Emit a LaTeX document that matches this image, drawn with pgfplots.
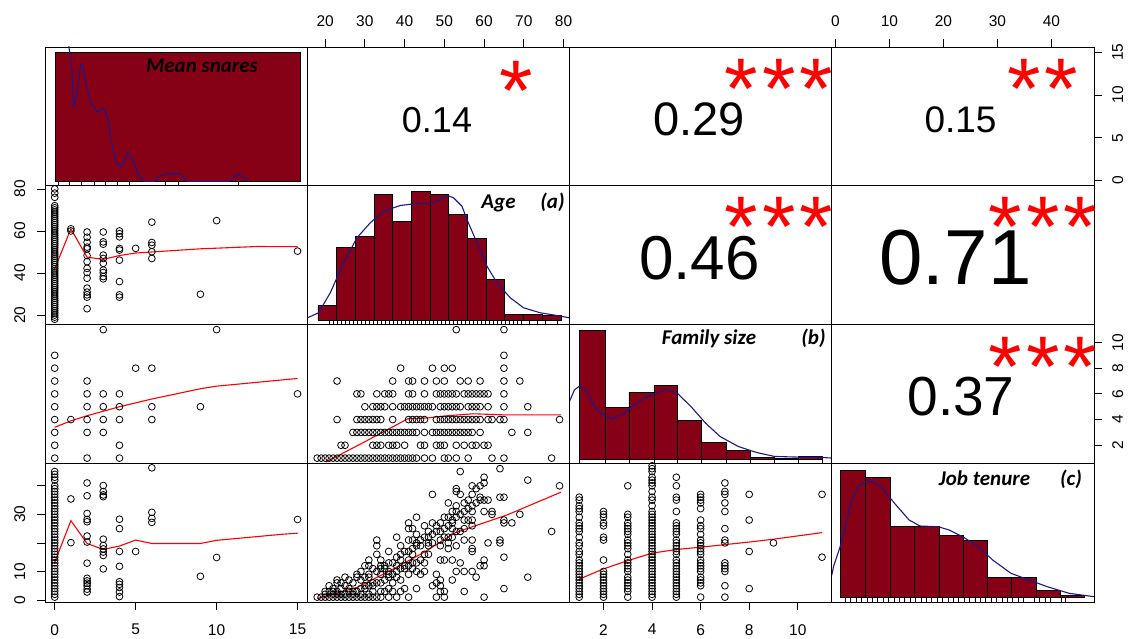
\documentclass[border=0pt]{standalone}
\usepackage{fontspec}
\setmainfont{Liberation Sans}
\newfontfamily\labfont{Carlito}
\usepackage{pgfplots}
\pgfplotsset{compat=1.18}
\definecolor{barred}{RGB}{134,0,22}
\definecolor{densblue}{RGB}{25,25,140}
\definecolor{lowred}{RGB}{255,0,0}
\tikzset{lab/.style={anchor=base, inner sep=0pt, font=\labfont\bfseries\itshape\fontsize{21}{24}\selectfont},
  stars/.style={inner sep=0pt, anchor=base, text=lowred, font=\fontsize{86}{90}\selectfont}}
\newcommand\sst{\hspace{4pt}}
\pgfplotsset{
  panel/.style={scale only axis, width=262.25pt, height=138.75pt, anchor=north west,
    axis line style={line width=0.9pt, black},
    xtick=\empty, ytick=\empty,
    tick align=outside, major tick length=8pt,
    tick style={line width=0.8pt, black},
    /pgf/number format/assume math mode=true,
    tick label style={font=\fontsize{15.5}{18}\selectfont, black, inner sep=0pt},
  },
  topx/.style={xtick pos=right, xticklabel pos=right, xticklabel style={anchor=south, yshift=12pt}},
  botx/.style={xtick pos=left, xticklabel pos=left, xticklabel style={anchor=north, yshift=-14pt}},
  lefty/.style={ytick pos=left, yticklabel pos=left, yticklabel style={xshift=-11.5pt, rotate=90, anchor=south}},
  righty/.style={ytick pos=right, yticklabel pos=right, yticklabel style={xshift=10pt, rotate=90, anchor=north}},
  scat/.style={only marks, mark=o, mark size=3.4pt, mark options={line width=0.8pt, black}, black},
  low/.style={lowred, line width=1.1pt, no marks},
  dens/.style={densblue, line width=1.1pt, no marks},
  hist/.style={ybar interval, fill=barred, draw=black, line width=0.8pt},
  rug/.style={ycomb, black, line width=0.8pt, no marks},
  diag/.style={panel, xmin=0, xmax=262.25},
}
\begin{document}
\begin{tikzpicture}
\useasboundingbox (0pt,0pt) rectangle (1129pt,638pt);

% ---------- Row 1 ----------
% (1,1) Mean snares histogram (panel-relative units)
\begin{axis}[diag, at={(45pt,591pt)}, ymin=-4, ymax=134.75]
\addplot[hist] coordinates {(10,129.7) (255,0)};
\addplot[rug] coordinates {(13,-4) (24,-4) (36,-4) (49,-4) (60,-4) (72,-4) (84,-4) (120,-4) (133,-4) (193,-4)};
\addplot[dens] coordinates {(21.5,160) (24,134) (26.6,115.3) (28.8,75.3) (31.4,85.3) (35.7,117) (37.9,115.3) (42.3,92) (45.9,78.7) (52.5,69.3) (58.6,73.7) (62.3,65.3) (65.9,42) (71.4,18.7) (76.8,15.3) (83,29.3) (87.7,22) (93.2,7) (98.6,0.3) (109.5,0.3) (115,6) (121.5,8) (135,8) (142.3,0.3) (184,0.3) (193.2,8) (204,0.3)};
\node[lab] at (axis cs:157,109) {Mean snares};
\end{axis}

% (1,2) top Age ticks
\begin{axis}[panel, topx, at={(307.25pt,591pt)}, xmin=15.5, xmax=81.5, ymin=0, ymax=1, xtick={20,30,40,50,60,70,80}]
\end{axis}
% (1,3)
\begin{axis}[panel, at={(569.5pt,591pt)}, xmin=0, xmax=1, ymin=0, ymax=1]
\end{axis}
% (1,4) top Job tenure ticks, right Mean snares ticks
\begin{axis}[panel, topx, righty, at={(831.75pt,591pt)}, xmin=-0.7, xmax=47.9, ymin=-0.6, ymax=15.6, xtick={0,10,20,30,40}, ytick={0,5,10,15}]
\end{axis}

% ---------- Row 2 ----------
% (2,1) Mean snares vs Age
\begin{axis}[panel, lefty, at={(45pt,452.25pt)}, xmin=-0.6, xmax=15.6, ymin=15.5, ymax=81.5, ytick={20,40,60,80}]
\addplot[scat] coordinates {(0,18)(0,19)(0,20)(0,21)(0,22)(0,23)(0,24)(0,25)(0,26)(0,27)(0,28)(0,29)(0,30)(0,31)(0,32)(0,33)(0,34)(0,35)(0,36)(0,37)(0,38)(0,39)(0,40)(0,41)(0,42)(0,43)(0,44)(0,45)(0,46)(0,47)(0,48)(0,49)(0,50)(0,51)(0,52)(0,53)(0,54)(0,55)(0,56)(0,57)(0,58)(0,59)(0,60)(0,61)(0,62)(0,63)(0,64)(0,65)(0,66)(0,67)(0,68)(0,69)(0,70)(0,71)(0,72)(0,76)(0,78)(0,80)
(1,61)(1,60)
(2,59.5)(2,57)(2,54.6)(2,52.3)(2,51.5)(2,48.3)(2,45.4)(2,42.2)(2,40.2)(2,37.5)(2,32.8)(2,30.9)(2,29.6)(2,28.5)(2,23)
(3,59.5)(3,54.8)(3,53.7)(3,48.5)(3,46.9)(3,44.6)(3,41.4)(3,40.2)(3,38.3)(3,37.2)
(4,60)(4,58.7)(4,57.2)(4,51.7)(4,50.9)(4,46.1)(4,35.9)(4,29.6)(4,28.5)
(5,51.7)(6,64.2)(6,54.5)(6,53.2)(6,50.1)(6,46.9)(9,29.9)(10,64.9)(15,50.4)};
\addplot[low] coordinates {(0,42) (1,61) (2,47.5) (3,46.5) (4,48.3) (5,49.5) (6,50) (9,51.5) (10,51.8) (12.5,52.6) (15,52.5)};
\end{axis}

% (2,2) Age histogram
\begin{axis}[diag, at={(307.25pt,452.25pt)}, ymin=-4.3, ymax=134.45]
\addplot[hist] coordinates {(10.7,14.7) (29.4,72.4) (48.1,84) (66.8,125.7) (85.5,98.4) (104.2,129) (122.8,125.7) (141.5,106) (160.2,81.4) (178.9,40.7) (197.6,5.7) (216.3,5.7) (235.0,5) (253.7,0)};
\addplot[rug] coordinates {(22,-4.3)(26,-4.3)(30,-4.3)(34,-4.3)(38,-4.3)(42,-4.3)(46,-4.3)(50,-4.3)(54,-4.3)(58,-4.3)(62,-4.3)(66,-4.3)(70,-4.3)(74,-4.3)(78,-4.3)(82,-4.3)(86,-4.3)(90,-4.3)(94,-4.3)(98,-4.3)(102,-4.3)(106,-4.3)(110,-4.3)(114,-4.3)(118,-4.3)(122,-4.3)(126,-4.3)(130,-4.3)(134,-4.3)(138,-4.3)(142,-4.3)(146,-4.3)(150,-4.3)(154,-4.3)(158,-4.3)(162,-4.3)(166,-4.3)(170,-4.3)(174,-4.3)(178,-4.3)(182,-4.3)(186,-4.3)(190,-4.3)(194,-4.3)(198,-4.3)(202,-4.3)(206,-4.3)(210,-4.3)(214,-4.3)(222,-4.3)(230,-4.3)(238,-4.3)(250,-4.3)};
\addplot[dens] coordinates {(0.3,2.4) (11.3,7.4) (23,27.4) (36.3,57.4) (49.7,82.4) (63,97.4) (76.3,109) (93,114.7) (109.7,116.7) (123,116.7) (133,120.7) (140.3,124.7) (146.3,122.4) (154.7,114) (159.7,100.7) (169.7,77.4) (179.7,54) (189.7,37.4) (203,22.4) (216.3,12.4) (233,7.4) (249.7,4.7) (262,2.4)};
\node[lab] at (axis cs:191.25,111.9) {Age};
\node[lab] at (axis cs:245.25,111.9) {(a)};
\end{axis}

% (2,3), (2,4)
\begin{axis}[panel, at={(569.5pt,452.25pt)}, xmin=0, xmax=1, ymin=0, ymax=1]
\end{axis}
\begin{axis}[panel, at={(831.75pt,452.25pt)}, xmin=0, xmax=1, ymin=0, ymax=1]
\end{axis}

% ---------- Row 3 ----------
% (3,1) Mean snares vs Family size
\begin{axis}[panel, at={(45pt,313.5pt)}, xmin=-0.6, xmax=15.6, ymin=0.6, ymax=11.4]
\addplot[scat] coordinates {(0,9)(0,8)(0,7)(0,6)(0,5)(0,4)(0,3)(0,2)(0,1)
(1,4)(2,7)(2,6)(2,5)(2,4)(2,3)(2,1)(3,11)(3,6)(3,5)(3,4)(3,3)
(4,6)(4,5)(4,4)(4,2)(4,1)(5,8)(6,8)(6,5)(6,4)(9,5)(10,11)(15,6)};
\addplot[low] coordinates {(0,3.4) (1,3.9) (2,4.3) (4,5.0) (6,5.6) (9,6.4) (10,6.6) (15,7.2)};
\end{axis}

% (3,2) Age vs Family size
\begin{axis}[panel, at={(307.25pt,313.5pt)}, xmin=15.5, xmax=81.5, ymin=0.6, ymax=11.4]
\addplot[scat] coordinates {(53,11)(65,11)(65,9)
(39,8)(47,8)(50,8)(52,8)(65,8)
(23,7)(37,7)(41,7)(42,7)(45,7)(48,7)(50,7)(54,7)(56,7)(59,7)(65,7)(69,7)
(28,6)(29,6)(33,6)(35,6)(36,6)(37,6)(41,6)(42,6)(45,6)(48,6)(49,6)(50,6)(51,6)(52,6)(53,6)(55,6)(56,6)(57,6)(58,6)(59,6)(60,6)(61,6)(65,6)
(30,5)(32,5)(33,5)(34,5)(35,5)(37,5)(39,5)(40,5)(41,5)(42,5)(43,5)(44,5)(45,5)(46,5)(47,5)(49,5)(50,5)(51,5)(52,5)(53,5)(54,5)(56,5)(57,5)(58,5)(59,5)(61,5)(65,5)(71,5)
(23,4)(28,4)(29,4)(30,4)(31,4)(32,4)(33,4)(34,4)(37,4)(41,4)(42,4)(43,4)(44,4)(45,4)(48,4)(49,4)(50,4)(51,4)(52,4)(53,4)(54,4)(55,4)(56,4)(57,4)(58,4)(59,4)(61,4)(62,4)(64,4)(65,4)(79,4)
(27,3)(28,3)(29,3)(30,3)(31,3)(32,3)(33,3)(34,3)(35,3)(36,3)(37,3)(38,3)(39,3)(40,3)(41,3)(42,3)(43,3)(45,3)(47,3)(48,3)(49,3)(50,3)(51,3)(52,3)(53,3)(54,3)(55,3)(56,3)(57,3)(59,3)(67,3)(71,3)
(24,2)(25,2)(32,2)(33,2)(34,2)(36,2)(37,2)(38,2)(40,2)(44,2)(45,2)(48,2)(49,2)(50,2)(53,2)(55,2)(57,2)(58,2)(60,2)(61,2)
(18,1)(19,1)(20,1)(21,1)(22,1)(23,1)(24,1)(25,1)(26,1)(27,1)(28,1)(29,1)(30,1)(31,1)(32,1)(33,1)(34,1)(35,1)(36,1)(37,1)(38,1)(39,1)(40,1)(41,1)(42,1)(43,1)(45,1)(47,1)(50,1)(51,1)(53,1)(56,1)(62,1)(65,1)(77,1)};
\addplot[low] coordinates {(20.2,0.7) (29.8,2.24) (35.3,3.15) (40.8,4.06) (45.8,4.13) (50.8,4.3) (57.3,4.45) (64.6,4.37) (79.4,4.37)};
\end{axis}

% (3,3) Family size histogram
\begin{axis}[diag, at={(569.5pt,313.5pt)}, ymin=-3.5, ymax=135.25]
\addplot[hist] coordinates {(9.9,129.3) (35.4,52.3) (59.4,67.7) (84.5,74) (107.4,39.3) (132.1,17.7) (156.5,9) (180.8,2.3) (204.8,1) (229.2,3.3) (252.8,0)};
\addplot[rug] coordinates {(9.9,-3.5)(35.4,-3.5)(59.4,-3.5)(84.5,-3.5)(107.4,-3.5)(132.1,-3.5)(156.5,-3.5)(180.8,-3.5)(204.8,-3.5)(229.2,-3.5)(252.8,-3.5)};
\addplot[dens] coordinates {(0,58.3) (5,70) (10.5,74) (16,70) (26.9,50) (41.4,40.7) (54.1,46) (66.9,56.7) (81.4,65) (96,70) (106.9,67.3) (121.4,53.3) (136,36.7) (150.5,23.3) (168.7,13.3) (186.9,7.3) (205,3.3) (226.9,2.7) (245,2.7) (262.25,1.7)};
\node[lab] at (axis cs:139.5,115) {Family size};
\node[lab] at (axis cs:244,115) {(b)};
\end{axis}

% (3,4) right Family size ticks
\begin{axis}[panel, righty, at={(831.75pt,313.5pt)}, xmin=0, xmax=1, ymin=0.6, ymax=11.4, ytick={2,4,6,8,10}]
\end{axis}

% ---------- Row 4 ----------
% (4,1) Mean snares vs Job tenure
\begin{axis}[panel, botx, lefty, at={(45pt,174.75pt)}, xmin=-0.6, xmax=15.6, ymin=-0.7, ymax=47.9, xtick={0,5,10,15}, ytick={0,10,20,30,40}, yticklabels={0,10,,30,}]
\addplot[scat] coordinates {(0,1)(0,2)(0,3)(0,4)(0,5)(0,6)(0,7)(0,8)(0,9)(0,10)(0,11)(0,12)(0,13)(0,14)(0,15)(0,16)(0,17)(0,18)(0,19)(0,20)(0,21)(0,22)(0,23)(0,24)(0,25)(0,26)(0,27)(0,28)(0,29)(0,30)(0,31)(0,32)(0,33)(0,34)(0,35)(0,36)(0,37)(0,38)(0,39)(0,40)(0,42)(0,43)(0,44)(0,45)
(1,35.4)(1,20.1)
(2,41)(2,36.5)(2,30.3)(2,28.2)(2,27.4)(2,22.4)(2,20.3)(2,12.9)(2,7.6)(2,6.7)(2,5.9)(2,5)(2,3.8)(2,2.8)
(3,40.1)(3,38)(3,36.8)(3,36.2)(3,21.3)(3,19.1)(3,17.9)(3,16.8)(3,15.6)(3,10.9)
(4,28.3)(4,25)(4,17)(4,11.8)(4,6.4)(4,5.5)(4,4.4)(4,2.8)(4,1.2)
(5,17)(6,46.3)(6,30.7)(6,28.6)(6,27.2)(9,8.3)(10,14.9)(15,28.2)};
\addplot[low] coordinates {(0,13.2) (1,27.8) (2,19.8) (3,17.7) (4,18.9) (5,21) (6,19.8) (9,19.8) (10,20.9) (14,23) (15,23.4)};
\end{axis}

% (4,2) Age vs Job tenure
\begin{axis}[panel, at={(307.25pt,174.75pt)}, xmin=15.5, xmax=81.5, ymin=-0.7, ymax=47.9]
\addplot[scat] coordinates {(54,45)(60,43)(64,46)(71,42)(79,40)(60,41)(59,40)(58,39)(57,40)(53,39)(53,38)(47,37)(54,37)(57,37)(59,36)(60,35)(61,35)(56,35)(51,34)(53,33)(55,34)(52,31)(53,31)(57,31)(60,31)(62,31)(62,30)(64,36)(65,36)(69,30)(67,27)(65,27)(65,28)(50,29)(51,29)(52,28)(49,27)(43,29)(41,27)(45,26)(47,27)(48,26)(41,25)(42,25)(43,23)(46,24)(49,24)(52,25)(55,25)(57,26)(55,21)(57,21)(57,18)(61,20)(64,21)(64,20)(71,8)(65,15)(77,24)(38,22)(33,21)(33,19)(39,19)(41,21)(42,21)(43,19)(44,19)(46,19)(46,20)(49,19)(51,20)(51,18)(53,19)(57,17)(41,17)(42,16)(45,16)(46,16)(49,14)(50,14)(52,14)(54,13)(60,14)(60,12)(59,12)(31,14)(33,16)(34,14)(36,17)(37,13)(38,12)(36,10)(35,11)(34,12)(32,11)(31,12)(30,12)(29,10)(28,8)(26,7)(25,8)(23,7)(23,6)(24,6)(25,5)(27,6)(28,9)(31,9)(34,9)(36,9)(38,8)(40,11)(41,9)(42,11)(43,10)(44,9)(45,10)(45,13)(41,12)(39,14)(39,7)(40,4)(39,3)(37,3)(36,4)(35,3)(34,3)(32,3)(31,2)(29,2)(28,3)(27,2)(25,2)(23,3)(22,3)(21,3)(20,2)(19,1)(18,1)(21,5)(22,4)(48,9)(49,7)(49,5)(48,6)(47,5)(43,4)(49,3)(50,1)(48,1)(50,3)(53,10)(55,10)(57,10)(58,8)(52,7)(55,3)(60,1)(65,4)(34,1)(36,1)(38,1)(41,1)(37,6)(34,6)(32,6)(30,5)(29,7)(26,4)(20,3)(24,4)
(20,1)(21,1)(22,1)(23,1)(24,1)(25,1)(26,1)(27,1)(28,1)(29,1)(30,1)(31,1)(32,1)(33,1)(22,2)(23,2)(24,2)(26,3)(27,3)(29,4)(30,4)(31,5)(32,5)(33,6)(35,7)(36,8)(37,9)(38,10)(39,11)(40,12)(30,8)(31,8)(33,10)(34,11)(35,12)(36,13)(38,15)(39,16)(40,17)(42,18)(43,20)(44,21)(45,22)(46,22)(47,23)(48,24)(50,25)(51,26)(52,27)(53,29)(54,30)(55,31)(56,32)(57,33)(58,34)(59,35)(50,22)(51,22)(52,22)(49,21)(47,20)(43,13)(44,14)(42,13)(41,14)(53,24)(54,24)(55,28)(56,28)(57,28)};
\addplot[low] coordinates {(18,0.5) (28,4.4) (36.4,10.3) (45,16.8) (49,20.3) (52.8,23.6) (58.2,26.2) (65.8,29.8) (79.4,37.8)};
\end{axis}

% (4,3) Family size vs Job tenure
\begin{axis}[panel, botx, at={(569.5pt,174.75pt)}, xmin=0.6, xmax=11.4, ymin=-0.7, ymax=47.9, xtick={2,4,6,8,10}]
\addplot[scat] coordinates {(1,36)(1,35)(1,33)(1,32)(1,31)(1,29)(1,27)(1,26)(1,25)(1,24)(1,22)(1,20)(1,19)(1,17)(1,16)(1,14)(1,13)(1,12)(1,11)(1,10)(1,9)(1,8)(1,7)(1,6)(1,5)(1,4)(1,3)(1,2)(1,1)
(2,31)(2,30)(2,29)(2,27)(2,26)(2,22)(2,21)(2,14)(2,10)(2,9)(2,8)(2,7)(2,6)(2,5)(2,4)(2,3)(2,2)(2,1)
(3,40)(3,30)(3,29)(3,27)(3,26)(3,25)(3,24)(3,23)(3,21)(3,20)(3,19)(3,18)(3,16)(3,14)(3,13)(3,12)(3,11)(3,10)(3,8)(3,7)(3,6)(3,5)(3,4)(3,3)(3,1)
(4,47)(4,46)(4,45)(4,43)(4,42)(4,41)(4,40)(4,38)(4,36)(4,35)(4,33)(4,31)(4,30)(4,29)(4,28)(4,27)(4,26)(4,25)(4,24)(4,23)(4,22)(4,21)(4,20)(4,19)(4,18)(4,17)(4,16)(4,15)(4,14)(4,13)(4,12)(4,11)(4,10)(4,9)(4,8)(4,7)(4,6)(4,5)(4,4)(4,3)(4,2)(4,1)
(5,43)(5,40)(5,36)(5,35)(5,31)(5,27)(5,26)(5,25)(5,24)(5,23)(5,21)(5,20)(5,19)(5,18)(5,17)(5,16)(5,14)(5,13)(5,12)(5,11)(5,10)(5,9)(5,8)(5,7)(5,6)(5,5)(5,4)(5,3)(5,2)(5,1)
(6,37)(6,36)(6,35)(6,34)(6,32)(6,28)(6,26)(6,25)(6,23)(6,21)(6,20)(6,19)(6,18)(6,17)(6,16)(6,14)(6,13)(6,12)(6,11)(6,10)(6,8)(6,7)(6,6)(6,5)(6,1)
(7,41)(7,38)(7,37)(7,34)(7,31)(7,25)(7,21)(7,20)(7,13)(7,12)(7,11)(7,10)(7,5)(7,1)
(8,37)(8,28)(8,17)(8,4)(9,20)(11,37)(11,15)};
\addplot[low] coordinates {(1,7.3) (2,10.9) (3,13.8) (4,16.4) (5,17.7) (6,18.5) (7,19.4) (8,20.3) (9,21.3) (11,23.6)};
\end{axis}

% (4,4) Job tenure histogram
\begin{axis}[diag, at={(831.75pt,174.75pt)}, ymin=-4.7, ymax=134.05]
\addplot[hist] coordinates {(8.95,127.3) (33.75,120) (58.45,70.6) (82.75,70.6) (107.15,62.3) (131.15,57.3) (155.55,20) (179.85,20) (204.65,7.3) (228.25,2.3) (252.65,0)};
\addplot[rug] coordinates {(13.7,-4.7)(19.1,-4.7)(24.5,-4.7)(29.9,-4.7)(35.3,-4.7)(40.7,-4.7)(46.1,-4.7)(51.5,-4.7)(56.9,-4.7)(62.3,-4.7)(67.7,-4.7)(73.1,-4.7)(78.5,-4.7)(83.9,-4.7)(89.3,-4.7)(94.7,-4.7)(100.1,-4.7)(105.5,-4.7)(110.9,-4.7)(116.3,-4.7)(121.7,-4.7)(127.1,-4.7)(132.5,-4.7)(137.9,-4.7)(143.3,-4.7)(148.7,-4.7)(154.1,-4.7)(159.5,-4.7)(164.9,-4.7)(170.3,-4.7)(175.7,-4.7)(181.1,-4.7)(186.5,-4.7)(191.9,-4.7)(202.7,-4.7)(208.1,-4.7)(213.5,-4.7)(218.9,-4.7)(229.7,-4.7)(233.7,-4.7)};
\addplot[dens] coordinates {(0,22) (1.75,30.6) (8.95,52.3) (19.15,94) (26.45,110.6) (33.75,115.6) (42.75,115.6) (51.85,107.3) (62.75,94) (77.35,77.3) (88.25,71.3) (106.45,70.6) (117.35,67.3) (131.85,60) (146.45,50.6) (160.95,37.3) (179.15,24) (197.35,17.3) (215.55,10.6) (237.35,4) (262.25,0.6)};
\node[lab] at (axis cs:152.75,112.3) {Job tenure};
\node[lab] at (axis cs:239.25,112.3) {(c)};
\end{axis}

% ---------- correlation texts and stars ----------
\begin{scope}
\clip (307.25pt,452.25pt) rectangle (569.5pt,591pt);
\node[inner sep=0pt, font=\fontsize{36}{40}\selectfont] at (437pt,518pt) {0.14};
\node[stars] at (516pt,517pt) {*};
\end{scope}
\begin{scope}
\clip (569.5pt,452.25pt) rectangle (831.75pt,591pt);
\node[inner sep=0pt, font=\fontsize{47}{50}\selectfont] at (699pt,518.5pt) {0.29};
\node[stars] at (779pt,519pt) {*\sst*\sst*};
\end{scope}
\begin{scope}
\clip (831.75pt,452.25pt) rectangle (1094pt,591pt);
\node[inner sep=0pt, font=\fontsize{37}{40}\selectfont] at (960.5pt,518pt) {0.15};
\node[stars] at (1043pt,519pt) {*\sst*};
\end{scope}
\begin{scope}
\clip (569.5pt,313.5pt) rectangle (831.75pt,452.25pt);
\node[inner sep=0pt, font=\fontsize{62}{66}\selectfont] at (699.5pt,379.7pt) {0.46};
\node[stars] at (779pt,381pt) {*\sst*\sst*};
\end{scope}
\begin{scope}
\clip (831.75pt,313.5pt) rectangle (1094pt,452.25pt);
\node[inner sep=0pt, font=\fontsize{78}{82}\selectfont] at (955.5pt,380pt) {0.71};
\node[stars] at (1043pt,381pt) {*\sst*\sst*};
\end{scope}
\begin{scope}
\clip (831.75pt,174.75pt) rectangle (1094pt,313.5pt);
\node[inner sep=0pt, font=\fontsize{55}{60}\selectfont] at (961pt,241.7pt) {0.37};
\node[stars] at (1043pt,242pt) {*\sst*\sst*};
\end{scope}
\end{tikzpicture}
\end{document}
